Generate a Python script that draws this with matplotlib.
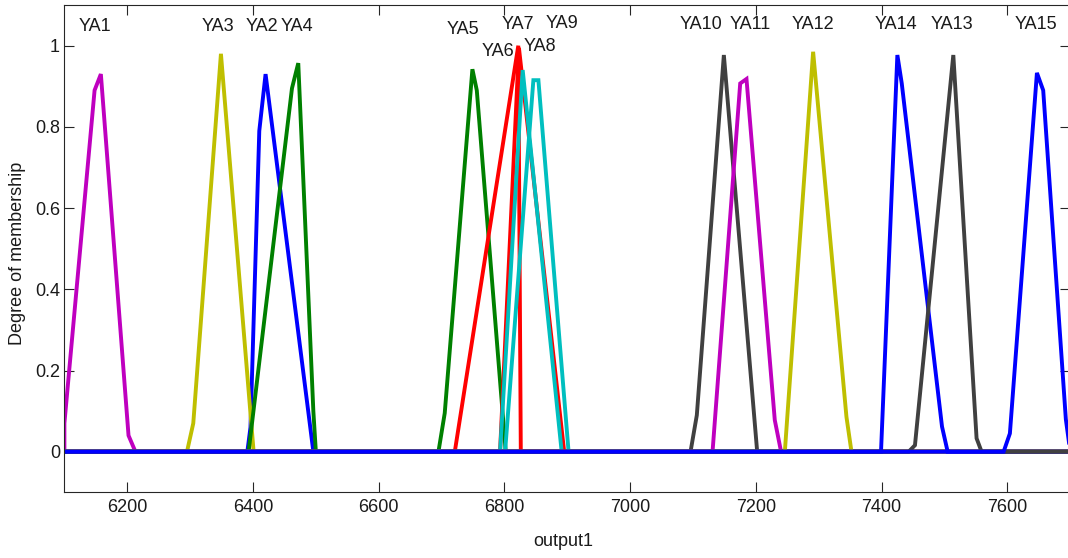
import numpy as np
import matplotlib
matplotlib.use("Agg")
import matplotlib.pyplot as plt

plt.rcParams['font.family'] = ['Liberation Sans', 'DejaVu Sans']

# membership functions, corner points
YA1_x = [6100, 6100, 6148, 6158, 6202, 6213, 7700]
YA1_y = [0, 0.07, 0.89, 0.93, 0.04, 0, 0]
YA2_x = [6100, 6391, 6396, 6410, 6420, 6496, 7700]
YA2_y = [0, 0, 0.06, 0.79, 0.93, 0, 0]
YA3_x = [6100, 6295, 6305, 6349, 6401, 7700]
YA3_y = [0, 0, 0.07, 0.98, 0, 0]
YA4_x = [6100, 6393, 6462, 6472, 6496, 6500, 7700]
YA4_y = [0, 0, 0.895, 0.957, 0.10, 0, 0]
YA5_x = [6100, 6695, 6705, 6749, 6756, 6802, 7700]
YA5_y = [0, 0, 0.095, 0.942, 0.89, 0, 0]
YA6_x = [6100, 6721, 6822, 6826, 7700]
YA6_y = [0, 0, 1.0, 0, 0]
YA7_x = [6100, 6793, 6823, 6895, 7700]
YA7_y = [0, 0, 0.995, 0, 0]
YA8_x = [6100, 6793, 6829, 6891, 7700]
YA8_y = [0, 0, 0.94, 0, 0]
YA9_x = [6100, 6801, 6846, 6854, 6902, 7700]
YA9_y = [0, 0, 0.915, 0.915, 0, 0]
YA10_x = [6100, 7096, 7106, 7149, 7202, 7700]
YA10_y = [0, 0, 0.09, 0.977, 0, 0]
YA11_x = [6100, 7131, 7175, 7185, 7230, 7240, 7700]
YA11_y = [0, 0, 0.907, 0.918, 0.078, 0, 0]
YA12_x = [6100, 7246, 7291, 7344, 7352, 7700]
YA12_y = [0, 0, 0.985, 0.086, 0, 0]
YA14_x = [6100, 7399, 7425, 7432, 7496, 7505, 7700]
YA14_y = [0, 0, 0.977, 0.907, 0.062, 0, 0]
YA13_x = [6100, 7443, 7453, 7514, 7551, 7559, 7700]
YA13_y = [0, 0, 0.016, 0.977, 0.033, 0, 0]
YA15_x = [6100, 7594, 7604, 7647, 7657, 7693, 7700]
YA15_y = [0, 0, 0.045, 0.933, 0.89, 0.08, 0]

names = ['YA1', 'YA2', 'YA3', 'YA4', 'YA5', 'YA6', 'YA7', 'YA8', 'YA9',
         'YA10', 'YA11', 'YA12', 'YA14', 'YA13', 'YA15']
colors = ['#bf00bf', '#0000ff', '#bfbf00', '#008000', '#008000', '#ff0000',
          '#ff0000', '#00bfbf', '#00bfbf', '#404040', '#bf00bf', '#bfbf00',
          '#0000ff', '#404040', '#0000ff']
xs = [YA1_x, YA2_x, YA3_x, YA4_x, YA5_x, YA6_x, YA7_x, YA8_x, YA9_x,
      YA10_x, YA11_x, YA12_x, YA14_x, YA13_x, YA15_x]
ys = [YA1_y, YA2_y, YA3_y, YA4_y, YA5_y, YA6_y, YA7_y, YA8_y, YA9_y,
      YA10_y, YA11_y, YA12_y, YA14_y, YA13_y, YA15_y]

# label positions (data coords)
label_x = [6149, 6415, 6345, 6470, 6734, 6789, 6822, 6857, 6891,
           7112, 7191, 7290, 7423, 7512, 7646]
label_y = [1.048, 1.048, 1.048, 1.048, 1.040, 0.985, 1.051, 0.998, 1.055,
           1.053, 1.053, 1.053, 1.053, 1.053, 1.053]

fig = plt.figure(figsize=(10.68, 5.58), dpi=100)
ax = fig.add_axes([0.0603, 0.1177, 0.9418, 0.8732])

for x, y, c in zip(xs, ys, colors):
    ax.plot(x, y, color=c, lw=2.8, solid_joinstyle='miter')

for n, lx, ly in zip(names, label_x, label_y):
    ax.text(lx, ly, n, ha='center', va='center', fontsize=13, color='#1a1a1a')

ax.set_xlim(6100, 7700)
ax.set_ylim(-0.1, 1.1)
ax.set_xticks(np.arange(6200, 7601, 200))
ax.set_yticks([0, 0.2, 0.4, 0.6, 0.8, 1])
ax.set_yticklabels(['0', '0.2', '0.4', '0.6', '0.8', '1'])
ax.tick_params(direction='in', top=True, right=True, length=7, width=0.8,
               color='#262626', labelsize=13, labelcolor='#1a1a1a')
ax.tick_params(axis='x', pad=5)
ax.tick_params(axis='y', pad=3.2)
for s in ax.spines.values():
    s.set_color('#262626')
    s.set_linewidth(0.8)

ax.set_xlabel('output1', fontsize=13, color='#1a1a1a')
ax.set_ylabel('Degree of membership', fontsize=13, color='#1a1a1a')
ax.xaxis.set_label_coords(0.496, -0.084)
ax.yaxis.set_label_coords(-0.038, 0.49)

fig.savefig('out.png', dpi=100)
